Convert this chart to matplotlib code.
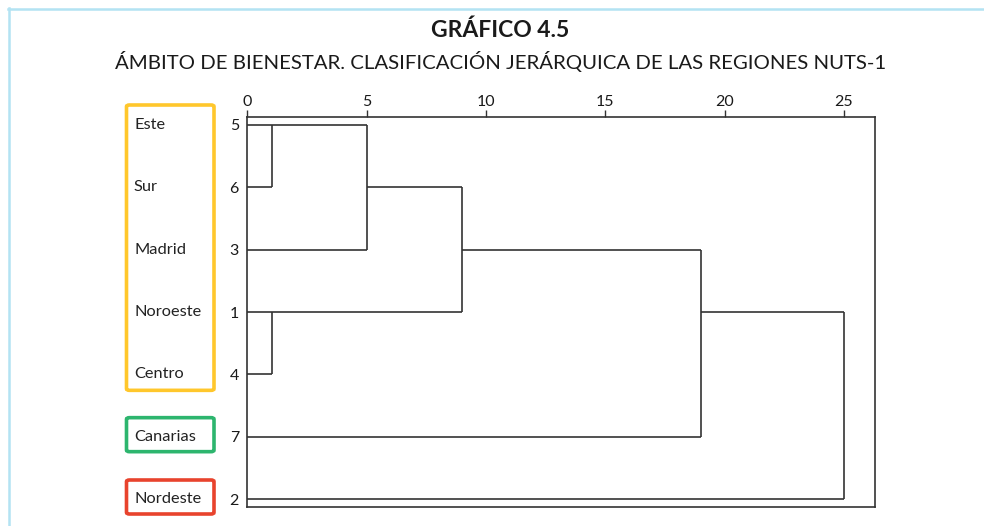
import math
import matplotlib
matplotlib.use("Agg")
import matplotlib.pyplot as plt
from matplotlib.lines import Line2D
from matplotlib.patches import FancyBboxPatch
from matplotlib.transforms import blended_transform_factory

plt.rcParams['font.family'] = ['Lato', 'DejaVu Sans']

# ---------------- data ----------------
title = "GRÁFICO 4.5"
subtitle = "ÁMBITO DE BIENESTAR. CLASIFICACIÓN JERÁRQUICA DE LAS REGIONES NUTS-1"
leaf_labels = ["5", "6", "3", "1", "4", "7", "2"]
region_names = ["Este", "Sur", "Madrid", "Noroeste", "Centro", "Canarias", "Nordeste"]
# merges (scipy-like): new cluster ids start at len(leaf_labels)
merge_a = [0, 3, 7, 9, 10, 11]
merge_b = [1, 4, 2, 8, 5, 6]
merge_height = [1.05, 1.03, 5.0, 9.0, 19.0, 25.0]
x_ticks = [0, 5, 10, 15, 20, 25]
# region groups (first row, last row, colour)
group_first = [0, 5, 6]
group_last = [4, 5, 6]
group_color = ["#FFC72C", "#2DB56E", "#E8432D"]

W, H = 984, 526
fig = plt.figure(figsize=(W / 100, H / 100), dpi=100)
fig.patch.set_facecolor("white")

def fx(px):
    return px / W

def fy(py):
    return 1 - py / H

ax = fig.add_axes([fx(247.3), fy(507), fx(875) - fx(247.3), fy(117) - fy(507)])

line_color = "#333333"
lw = 1.2

# ---------------- dendrogram ----------------
n = len(leaf_labels)
pos = {i: (0.0, float(i)) for i in range(n)}
for k, (a, b, h) in enumerate(zip(merge_a, merge_b, merge_height)):
    xa, ya = pos[a]
    xb, yb = pos[b]
    ax.plot([xa, h], [ya, ya], color=line_color, lw=lw, solid_capstyle="butt")
    ax.plot([xb, h], [yb, yb], color=line_color, lw=lw, solid_capstyle="butt")
    ax.plot([h, h], [ya, yb], color=line_color, lw=lw, solid_capstyle="butt")
    pos[n + k] = (h, float(math.floor((ya + yb) / 2)))

ax.set_xlim(0, 26.3)
ax.set_ylim(6.128, -0.128)
ax.xaxis.tick_top()
ax.set_xticks(x_ticks)
ax.set_xticklabels([str(t) for t in x_ticks], fontsize=11.5, color="#1a1a1a")
ax.set_yticks(range(n))
ax.set_yticklabels(leaf_labels, fontsize=11.5, color="#1a1a1a")
ax.tick_params(axis="x", direction="out", length=5, width=1, color=line_color, pad=1)
ax.tick_params(axis="y", length=0, pad=6)
for sp in ax.spines.values():
    sp.set_color(line_color)
    sp.set_linewidth(1.2)

# ---------------- region labels & boxes ----------------
trans = blended_transform_factory(fig.transFigure, ax.transData)
for i, name in enumerate(region_names):
    fig.text(fx(134), i, name, transform=trans, fontsize=11.8, va="center", ha="left",
             color="#222222")

row_px = (499 - 125) / 6.0
for g0, g1, c in zip(group_first, group_last, group_color):
    top_px = 125 + g0 * row_px - (20 if g1 > g0 else 19)
    bot_px = 125 + g1 * row_px + (16 if g1 > g0 else 15)
    box = FancyBboxPatch((fx(126.5), fy(bot_px)), fx(214) - fx(126.5), fy(top_px) - fy(bot_px),
                         boxstyle="round,pad=0,rounding_size=0.003", transform=fig.transFigure,
                         fill=False, edgecolor=c, linewidth=2.6)
    fig.patches.append(box)

# ---------------- titles ----------------
fig.text(fx(500), fy(30), title, ha="center", va="center", fontsize=16.5, fontweight="bold",
         color="#1a1a1a")
fig.text(fx(501), fy(62), subtitle, ha="center", va="center", fontsize=14.7, color="#1a1a1a")

# ---------------- light blue frame ----------------
fig.add_artist(Line2D([fx(8), 1.0], [fy(8.5), fy(8.5)], transform=fig.transFigure,
                      color="#B3E3F3", lw=1.8))
fig.add_artist(Line2D([fx(8.5), fx(8.5)], [fy(8), 0.0], transform=fig.transFigure,
                      color="#B3E3F3", lw=1.8))

fig.savefig("out.png", dpi=100)
